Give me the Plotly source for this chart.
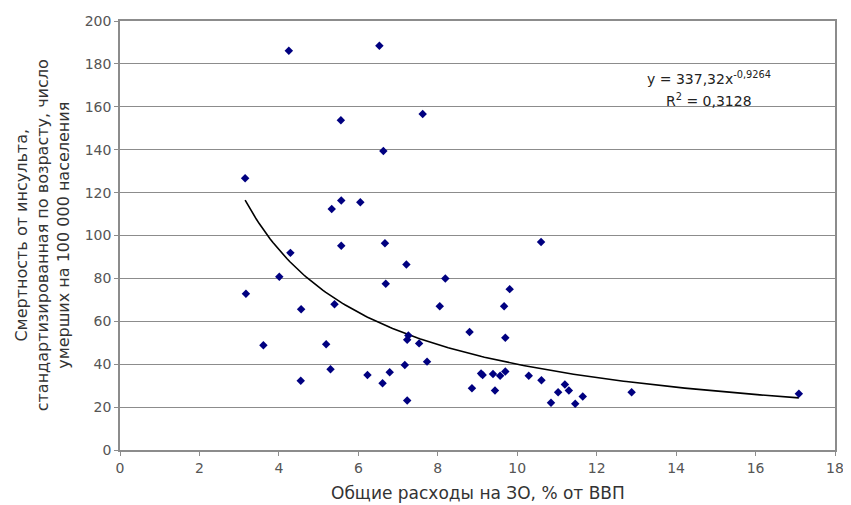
import numpy as np
import plotly.graph_objects as go

# Data
spending = [3.15, 3.17, 3.61, 4.01, 4.25, 4.29, 4.56, 4.55, 5.19, 5.33, 5.30, 5.40,
            5.56, 5.57, 5.57, 6.05, 6.23, 6.53, 6.63, 6.67, 6.69, 6.61, 6.79, 7.17,
            7.21, 7.23, 7.26, 7.23, 7.53, 7.62, 7.73, 8.05, 8.19, 8.80, 8.86, 9.09,
            9.13, 9.39, 9.44, 9.57, 9.67, 9.70, 9.70, 9.81, 10.60, 10.29, 10.61,
            10.85, 11.03, 11.20, 11.30, 11.46, 11.65, 12.88, 17.09]
mortality = [126.7, 72.8, 48.8, 80.8, 186.1, 91.9, 65.6, 32.3, 49.3, 112.4, 37.6, 67.9,
             153.7, 116.3, 95.2, 115.5, 35.0, 188.5, 139.4, 96.4, 77.5, 31.1, 36.2, 39.6,
             86.5, 51.4, 53.4, 23.1, 49.7, 156.6, 41.2, 67.0, 80.0, 55.0, 28.8, 35.7,
             35.0, 35.4, 27.7, 34.6, 67.0, 52.3, 36.6, 75.0, 97.0, 34.6, 32.5,
             22.0, 26.9, 30.5, 27.7, 21.6, 24.9, 26.9, 26.2]

# Power trendline as displayed in the chart: y = 337.32 * x^-0.9264
trend_a = 337.32
trend_b = -0.9264
x_ticks = [0, 2, 4, 6, 8, 10, 12, 14, 16, 18]
y_ticks = [0, 20, 40, 60, 80, 100, 120, 140, 160, 180, 200]

trend_x = np.linspace(min(spending), max(spending), 200)
trend_y = trend_a * trend_x ** trend_b

font_family = "DejaVu Sans, Verdana, sans-serif"
axis_color = "#8c8c8c"
tick_color = "#555555"
title_color = "#333333"

fig = go.Figure()
fig.add_trace(go.Scatter(
    x=trend_x, y=trend_y, mode="lines",
    line=dict(color="black", width=1.6), hoverinfo="skip", showlegend=False))
fig.add_trace(go.Scatter(
    x=spending, y=mortality, mode="markers",
    marker=dict(symbol="diamond", size=6.5, color="#000080"),
    showlegend=False))

fig.update_layout(
    width=851, height=505,
    margin=dict(l=112, r=24, t=5, b=63),
    paper_bgcolor="white", plot_bgcolor="white",
    font=dict(family=font_family, size=13, color=title_color),
    xaxis=dict(range=[0, 18], tickvals=x_ticks, showgrid=False, zeroline=False,
               showline=True, linecolor=axis_color, linewidth=1.5, mirror=True,
               ticks="outside", tickcolor=axis_color, ticklen=4,
               tickfont=dict(size=14, color=tick_color)),
    yaxis=dict(range=[0, 200], tickvals=y_ticks, showgrid=True, gridcolor=axis_color,
               gridwidth=1, zeroline=False, ticklabeloverflow="allow",
               showline=True, linecolor=axis_color, linewidth=1.5, mirror=True,
               ticks="outside", tickcolor=axis_color, ticklen=4,
               tickfont=dict(size=14, color=tick_color)),
    annotations=[
        dict(text="Общие расходы на ЗО, % от ВВП", xref="paper", yref="paper",
             x=0.5, y=0, yshift=-43, xanchor="center", yanchor="middle",
             showarrow=False, font=dict(size=17, color=title_color)),
        dict(text="Смертность от инсульта,<br>стандартизированная по возрасту, число<br>умерших на 100 000 населения",
             xref="paper", yref="paper", x=-0.108, y=0.5, xanchor="center", yanchor="middle",
             textangle=-90, showarrow=False, font=dict(size=16, color=title_color)),
        dict(text="y = 337,32x<sup>-0,9264</sup>", xref="x", yref="y",
             x=14.84, y=173.2, xanchor="center", yanchor="middle",
             showarrow=False, font=dict(size=14, color="#222222")),
        dict(text="R<sup>2</sup> = 0,3128", xref="x", yref="y",
             x=14.84, y=163.0, xanchor="center", yanchor="middle",
             showarrow=False, font=dict(size=14, color="#222222")),
    ],
)

fig.write_html("out.html")
